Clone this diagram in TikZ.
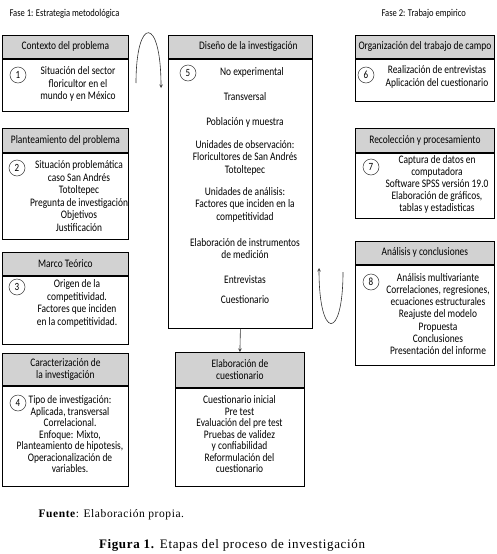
\documentclass[tikz,border=0pt]{standalone}
\usepackage{fontspec}
\setmainfont{Carlito}[FakeStretch=0.82]
\newfontfamily\capfont{Liberation Serif}[LetterSpace=5]
\usetikzlibrary{positioning}
\tikzset{
  hdr/.style={draw, line width=.8pt, fill=gray!35, minimum height=23pt, inner sep=1pt,
    align=center, font=\fontsize{11.5}{12}\selectfont},
  bdy/.style={draw, line width=.8pt},
  num/.style={circle, draw=gray!40!black, line width=.5pt, minimum size=16pt, inner sep=0pt,
    font=\fontsize{11}{12}\selectfont},
  txt/.style={align=center, inner sep=0pt, font=\fontsize{11.5}{12.5}\selectfont},
  loop/.style={->, >=stealth, line width=.6pt, draw=black!80},
}
\begin{document}
\begin{tikzpicture}[x=1pt, y=-1pt]
  \useasboundingbox (0,0) rectangle (497,554);
  \node[anchor=west, font=\fontsize{10.4}{11}\selectfont] (fase1) at (6,14) {Fase 1: Estrategia metodológica};
  \node[anchor=west, font=\fontsize{10.4}{11}\selectfont] (fase2) at (378,14) {Fase 2: Trabajo empirico};

  % Fase 1, left column
  \node[hdr, minimum width=126pt, anchor=north west] (ctx) at (2,35) {Contexto del problema};
  \node[bdy, minimum width=126pt, minimum height=52pt, below=0pt of ctx] (ctxb) {};
  \node[num] (n1) at (18,75) {1};
  \node[txt] (t1) at (78,84) {Situación del sector\\floricultor en el\\mundo y en México};

  \node[hdr, minimum width=126pt, minimum height=24pt, anchor=north west] (plan) at (2,128) {Planteamiento del problema};
  \node[bdy, minimum width=126pt, minimum height=86pt, below=0pt of plan] (planb) {};
  \node[num] (n2) at (17,168) {2};
  \node[txt] (t2) at (79,196) {Situación problemática\\caso San Andrés\\Totoltepec\\Pregunta de investigación\\Objetivos\\Justificación};

  \node[hdr, minimum width=126pt, anchor=north west] (marco) at (2,252) {Marco Teórico};
  \node[bdy, minimum width=126pt, minimum height=68pt, below=0pt of marco] (marcob) {};
  \node[num] (n3) at (17,287) {3};
  \node[txt] (t3) at (77,303.5) {Origen de la\\competitividad.\\Factores que inciden\\en la competitividad.};

  \node[hdr, minimum width=126pt, minimum height=32pt, anchor=north west] (carac) at (2,353) {Caracterización de\\la investigación};
  \node[bdy, minimum width=126pt, minimum height=100pt, below=0pt of carac] (caracb) {};
  \node[num] (n4) at (18,403) {4};
  \node[txt, font=\fontsize{11.5}{11.5}\selectfont] (t4) at (70,434.5) {Tipo de investigación:\\Aplicada, transversal\\Correlacional.\\Enfoque: Mixto,\\Planteamiento de hipotesis,\\Operacionalización de\\variables.};

  % centre column
  \node[hdr, minimum width=144pt, anchor=north west] (dis) at (168,35) {\hspace*{16pt}Diseño de la investigación};
  \node[bdy, minimum width=144pt, minimum height=269pt, below=0pt of dis] (disb) {};
  \node[num] (n5) at (188,73) {5};
  \node[txt] (t5) at (252,72) {No experimental};
  \foreach \y/\t in {97/Transversal, 122/Población y muestra,
      157.5/Unidades de observación:\\Floricultores de San Andrés\\Totoltepec,
      204.5/Unidades de análisis:\\Factores que inciden en la\\competitividad,
      248.5/Elaboración de instrumentos\\de medición,
      280/Entrevistas, 300/Cuestionario}
    \node[txt] at (245,\y) {\t};

  \node[hdr, minimum width=129pt, minimum height=35pt, anchor=north west] (elab) at (175,352) {Elaboración de\\cuestionario};
  \node[bdy, minimum width=129pt, minimum height=98pt, below=0pt of elab] (elabb) {};
  \node[txt, font=\fontsize{11.5}{11.5}\selectfont] (t9) at (239.5,434.5) {Cuestionario inicial\\Pre test\\Evaluación del pre test\\Pruebas de validez\\y confiabilidad\\Reformulación del\\cuestionario};
  \draw[loop] (disb.south) -- (elab.north);

  % Fase 2, right column
  \node[hdr, minimum width=139pt, anchor=north west] (org) at (355,35) {Organización del trabajo de campo};
  \node[bdy, minimum width=139pt, minimum height=42pt, below=0pt of org] (orgb) {};
  \node[num] (n6) at (366,75) {6};
  \node[txt] (t6) at (437,77) {Realización de entrevistas\\Aplicación del cuestionario};

  \node[hdr, minimum width=139pt, minimum height=24pt, anchor=north west] (rec) at (355,128) {Recolección y procesamiento};
  \node[bdy, minimum width=139pt, minimum height=65pt, below=0pt of rec] (recb) {};
  \node[num] (n7) at (371,167) {7};
  \node[txt, font=\fontsize{11.5}{12}\selectfont] (t7) at (437,184) {Captura de datos en\\computadora\\Software SPSS versión 19.0\\Elaboración de gráficos,\\tablas y estadisticas};

  \node[hdr, minimum width=139pt, anchor=north west] (ana) at (355,241) {Análisis y conclusiones};
  \node[bdy, minimum width=139pt, minimum height=100pt, below=0pt of ana] (anab) {};
  \node[num] (n8) at (371,282) {8};
  \node[txt, font=\fontsize{11.5}{12.3}\selectfont] (t8) at (438,314) {Análisis multivariante\\Correlaciones, regresiones,\\ecuaciones estructurales\\Reajuste del modelo\\Propuesta\\Conclusiones\\Presentación del informe};

  % return loops
  \coordinate (l1a) at (136,83);
  \coordinate (l1b) at (161,88);
  \draw[loop] (l1a) .. controls (136,15.5) and (161,15.5) .. (l1b);
  \coordinate (l2a) at (343,272);
  \coordinate (l2b) at (319,268);
  \draw[loop] (l2a) .. controls (343,341) and (319,341) .. (l2b);

  \node[anchor=west, font=\capfont\fontsize{11.5}{13}\selectfont] (src) at (35,515) {\textbf{Fuente}: Elaboración propia.};
  \node[font=\capfont\fontsize{13}{14}\selectfont] (cap) at (232,545) {\textbf{Figura 1.} Etapas del proceso de investigación};
\end{tikzpicture}
\end{document}
